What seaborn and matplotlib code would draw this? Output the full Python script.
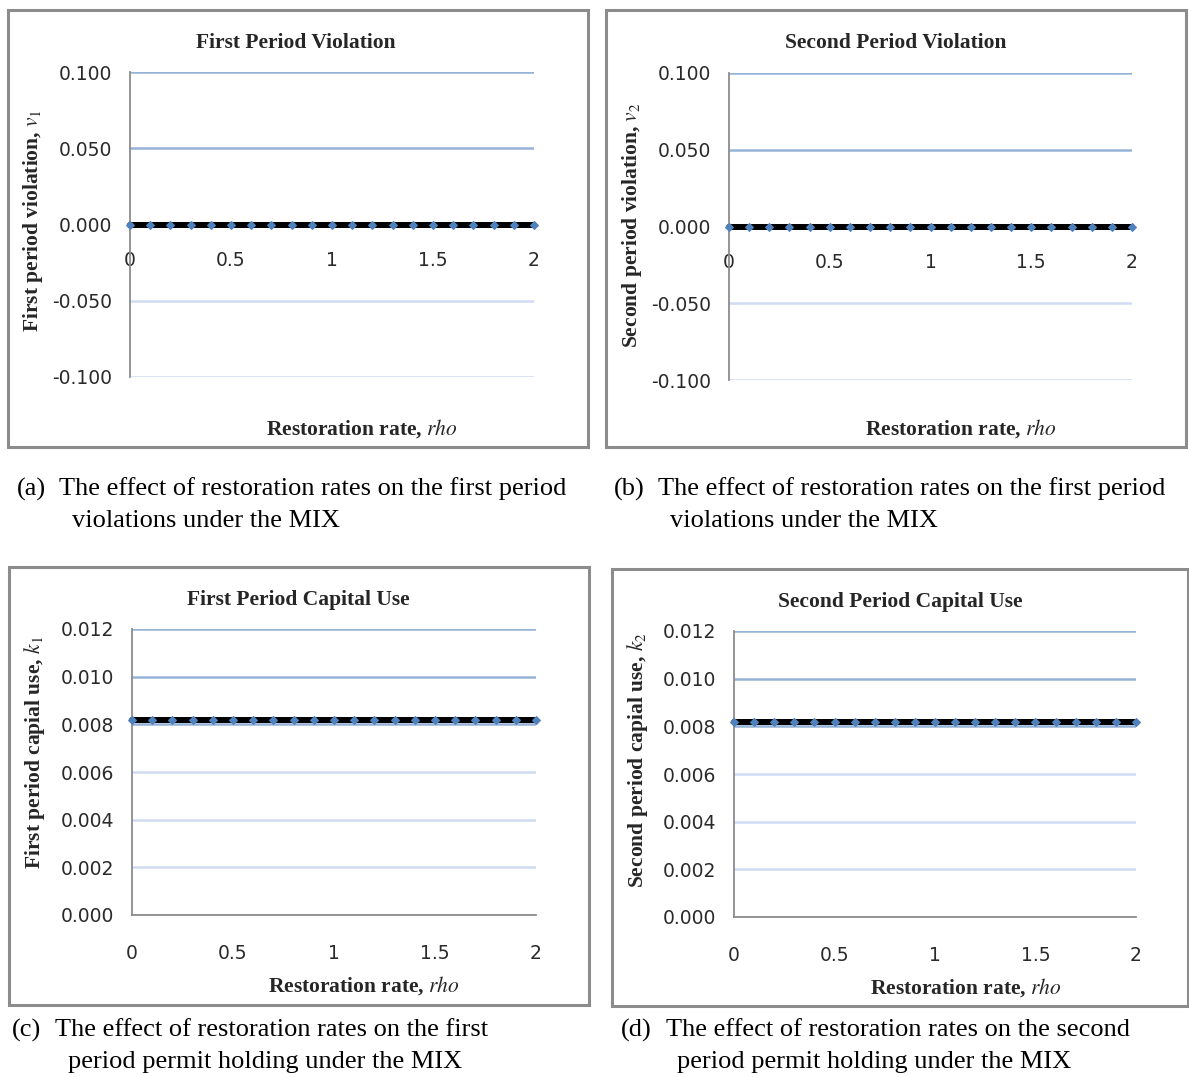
import numpy as np
import pandas as pd
import matplotlib
matplotlib.use("Agg")
import matplotlib.pyplot as plt
from matplotlib.patches import Rectangle
import seaborn as sns

sns.set_theme(style="white")
plt.rcParams['font.family'] = ['DejaVu Sans']
plt.rcParams['mathtext.fontset'] = 'stix'

# ---- data ----
rho = [0.0, 0.1, 0.2, 0.3, 0.4, 0.5, 0.6, 0.7, 0.8, 0.9, 1.0,
       1.1, 1.2, 1.3, 1.4, 1.5, 1.6, 1.7, 1.8, 1.9, 2.0]
v1 = [0.0] * 21
v2 = [0.0] * 21
k1 = [0.0082] * 21
k2 = [0.0082] * 21

titles = ["First Period Violation", "Second Period Violation",
          "First Period Capital Use", "Second Period Capital Use"]
ylabels = [r"First period violation, $v_1$", r"Second period violation, $v_2$",
           r"First period capial use, $k_1$", r"Second period capial use, $k_2$"]
xlabel = "Restoration rate, "
yticks_v = [-0.100, -0.050, 0.000, 0.050, 0.100]
yticks_k = [0.000, 0.002, 0.004, 0.006, 0.008, 0.010, 0.012]
xticks = [0, 0.5, 1, 1.5, 2]
xticklabels = ["0", "0.5", "1", "1.5", "2"]
captions = [
    ("(a)", "The effect of restoration rates on the first period", "violations under the MIX"),
    ("(b)", "The effect of restoration rates on the first period", "violations under the MIX"),
    ("(c)", "The effect of restoration rates on the first", "period permit holding under the MIX"),
    ("(d)", "The effect of restoration rates on the second", "period permit holding under the MIX"),
]

W, H = 1189, 1077
fig = plt.figure(figsize=(W / 100, H / 100), dpi=100)

def fx(x):
    return x / W

def fy(y):
    return 1 - y / H

panels = [
    dict(box=(8, 10, 588, 447), ax=(130, 72, 534, 377), tcx=296, ty=43, xlcx=362, xly=429, ylx=33, ylcy=220,
         data=v1, yt=yticks_v, fmt="{:.3f}", kind="v",
         cap=(17, 59, 72, 489, 521)),
    dict(box=(606, 10, 1186, 447), ax=(729, 73, 1132, 380), tcx=896, ty=43, xlcx=961, xly=429, ylx=632, ylcy=225,
         data=v2, yt=yticks_v, fmt="{:.3f}", kind="v",
         cap=(614, 658, 670, 489, 521)),
    dict(box=(9, 567, 589, 1005), ax=(132, 629, 536, 915), tcx=298, ty=600, xlcx=364, xly=986, ylx=35, ylcy=752,
         data=k1, yt=yticks_k, fmt="{:.3f}", kind="k",
         cap=(12, 55, 68, 1030, 1062)),
    dict(box=(612, 569, 1188, 1006), ax=(734, 631, 1136, 917), tcx=900, ty=602, xlcx=966, xly=988, ylx=637, ylcy=760,
         data=k2, yt=yticks_k, fmt="{:.3f}", kind="k",
         cap=(621, 666, 677, 1030, 1062)),
]

serif = ['Liberation Serif', 'DejaVu Serif']
strong = '#95B3D7'
light = '#CFDCF2'

for i, p in enumerate(panels):
    bx0, by0, bx1, by1 = p['box']
    fig.add_artist(Rectangle((fx(bx0), fy(by1)), fx(bx1 - bx0), (by1 - by0) / H,
                             transform=fig.transFigure, fill=False,
                             edgecolor='#8C8C8C', linewidth=2.2, zorder=0))
    ax0, at, ax1, ab = p['ax']
    ax = fig.add_axes([fx(ax0), fy(ab), fx(ax1 - ax0), (ab - at) / H])
    ax.set_facecolor('none')
    df = pd.DataFrame({'rho': rho, 'val': p['data']})
    sns.lineplot(data=df, x='rho', y='val', ax=ax, color='black', linewidth=4.3,
                 marker='D', markersize=4.3, markerfacecolor='#4F81BD',
                 markeredgecolor='#4F81BD', zorder=5, clip_on=False)
    ax.set_xlim(0, 2)
    yt = p['yt']
    ax.set_ylim(min(yt), max(yt))
    ax.set_yticks(yt)
    ax.set_yticklabels([p['fmt'].format(v) for v in yt])
    ax.set_xticks(xticks)
    ax.set_xticklabels(xticklabels)
    ax.grid(axis='y', linewidth=1.8)
    ax.grid(axis='x', visible=False)
    for v, gl in zip(yt, ax.get_ygridlines()):
        frac = (v - min(yt)) / (max(yt) - min(yt))
        gl.set_color(strong if frac > 0.6 else light)
    for s in ['top', 'right']:
        ax.spines[s].set_visible(False)
    ax.spines['left'].set_color('#8C8C8C')
    ax.spines['left'].set_linewidth(1.3)
    ax.spines['bottom'].set_color('#8C8C8C')
    ax.spines['bottom'].set_linewidth(1.3)
    if p['kind'] == 'v':
        ax.spines['bottom'].set_position(('data', 0))
        ax.tick_params(axis='x', pad=19)
    else:
        ax.tick_params(axis='x', pad=21)
    ax.tick_params(axis='both', length=0, labelsize=13.5, labelcolor='#2a2a2a')
    ax.tick_params(axis='y', pad=13)
    ax.set_xlabel('')
    ax.set_ylabel('')
    fig.text(fx(p['tcx']), fy(p['ty']), titles[i], ha='center', va='center',
             family=serif, fontweight='bold', fontsize=15.5)
    fig.text(fx(p['xlcx']), fy(p['xly']), xlabel + r"$\mathit{rho}$", ha='center', va='center',
             family=serif, fontweight='bold', fontsize=15.5)
    fig.text(fx(p['ylx']), fy(p['ylcy']), ylabels[i], ha='center', va='center',
             rotation=90, family=serif, fontweight='bold', fontsize=15.5)
    lab, l1, l2 = captions[i]
    cx0, cx1, cx2, cy1, cy2 = p['cap']
    fig.text(fx(cx0), fy(cy1), lab, ha='left', va='center', family=serif, fontsize=19, color='black')
    fig.text(fx(cx1), fy(cy1), l1, ha='left', va='center', family=serif, fontsize=19, color='black')
    fig.text(fx(cx2), fy(cy2), l2, ha='left', va='center', family=serif, fontsize=19, color='black')

fig.savefig('out.png', dpi=100, facecolor='white')
